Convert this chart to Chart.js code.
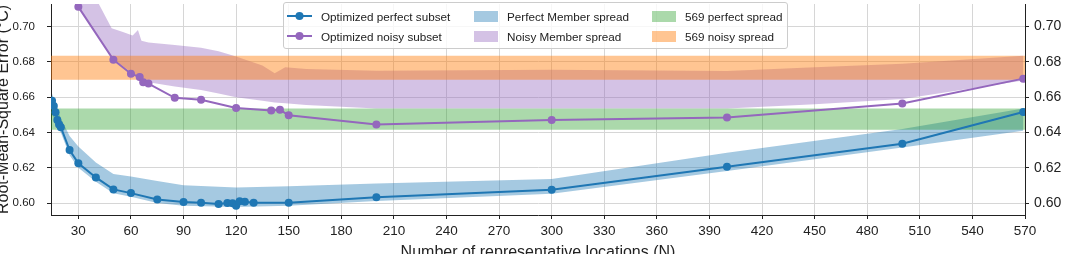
<!DOCTYPE html>
<html>
<head>
<meta charset="utf-8">
<script src="https://cdn.jsdelivr.net/npm/chart.js@4.4.0/dist/chart.umd.min.js"></script>
<style>
html, body { margin: 0; padding: 0; background: #fff; width: 1065px; height: 254px; overflow: hidden; }
#wrap { position: absolute; left: -8px; top: 0; width: 1079px; height: 270px; }
#legend { position: absolute; left: 283px; top: 2px; width: 503px; height: 45px; background: rgba(255,255,255,0.8);
          border: 1px solid #cccccc; border-radius: 3px; font: 11.7px "Liberation Sans", Arial, sans-serif; color: #222; }
.item { position: absolute; height: 16px; display: flex; align-items: center; white-space: nowrap; }
.patch { width: 24px; height: 11px; margin-right: 9px; }
.handle { width: 25px; height: 10px; margin-right: 9px; }
</style>
</head>
<body>
<div id="wrap"><canvas id="chart"></canvas></div>
<div id="legend">
  <div class="item" style="left:3px;top:5px"><svg class="handle" viewBox="0 0 25 10"><line x1="0" y1="5" x2="25" y2="5" stroke="#1f77b4" stroke-width="2"/><circle cx="12.5" cy="5" r="4" fill="#1f77b4"/></svg>Optimized perfect subset</div>
  <div class="item" style="left:3px;top:25px"><svg class="handle" viewBox="0 0 25 10"><line x1="0" y1="5" x2="25" y2="5" stroke="#9467bd" stroke-width="2"/><circle cx="12.5" cy="5" r="4" fill="#9467bd"/></svg>Optimized noisy subset</div>
  <div class="item" style="left:190px;top:5px"><div class="patch" style="background:rgba(31,119,180,0.4)"></div>Perfect Member spread</div>
  <div class="item" style="left:190px;top:25px"><div class="patch" style="background:rgba(148,103,189,0.4)"></div>Noisy Member spread</div>
  <div class="item" style="left:368px;top:5px"><div class="patch" style="background:rgba(44,160,44,0.4)"></div>569 perfect spread</div>
  <div class="item" style="left:368px;top:25px"><div class="patch" style="background:rgba(255,127,14,0.45)"></div>569 noisy spread</div>
</div>
<script>
// axis ticks
const xTicks = [30, 60, 90, 120, 150, 180, 210, 240, 270, 300, 330, 360, 390, 420, 450, 480, 510, 540, 570];
const yTicks = [0.60, 0.62, 0.64, 0.66, 0.68, 0.70];

// optimized perfect subset
const perfectN = [15, 16, 17, 18, 19, 20, 25, 30, 40, 50, 60, 75, 90, 100, 110, 115, 118, 120, 122, 125, 130, 150, 200, 300, 400, 500, 569];
const perfectRmse = [0.658, 0.655, 0.6515, 0.647, 0.6445, 0.643, 0.630, 0.6225, 0.6145, 0.6077, 0.6056, 0.602, 0.6006, 0.6002, 0.5994, 0.6000, 0.5998, 0.5984, 0.6010, 0.6007, 0.6001, 0.6001, 0.6033, 0.6075, 0.6206, 0.6336, 0.6516];

// optimized noisy subset
const noisyN = [30, 50, 60, 65, 67, 70, 85, 100, 120, 140, 145, 150, 200, 300, 400, 500, 569];
const noisyRmse = [0.7112, 0.6812, 0.6733, 0.6714, 0.6685, 0.6677, 0.6596, 0.6585, 0.6538, 0.6525, 0.6528, 0.6497, 0.6445, 0.6470, 0.6484, 0.6564, 0.6705];

// perfect member spread
const perfSpreadN = [15, 20, 25, 30, 40, 50, 60, 75, 90, 120, 150, 200, 300, 400, 500, 569];
const perfSpreadHi = [0.662, 0.648, 0.638, 0.632, 0.623, 0.6165, 0.615, 0.6125, 0.610, 0.6088, 0.6095, 0.611, 0.6136, 0.6285, 0.642, 0.6535];
const perfSpreadLo = [0.650, 0.640, 0.627, 0.620, 0.612, 0.6055, 0.6035, 0.600, 0.5985, 0.5978, 0.5985, 0.6012, 0.6053, 0.6182, 0.6315, 0.641];

// noisy member spread
const noisySpreadN = [30, 40, 49, 55, 61, 64, 66, 70, 85, 100, 110, 120, 135, 142, 148, 160, 200, 300, 400, 450, 500, 569];
const noisySpreadHi = [0.735, 0.716, 0.699, 0.697, 0.695, 0.698, 0.692, 0.691, 0.6895, 0.688, 0.686, 0.683, 0.678, 0.6735, 0.677, 0.676, 0.675, 0.6755, 0.6748, 0.677, 0.679, 0.6835];
const noisySpreadLo = [0.7112, 0.696, 0.6826, 0.678, 0.6735, 0.672, 0.670, 0.6685, 0.666, 0.664, 0.662, 0.660, 0.658, 0.657, 0.6565, 0.6555, 0.6535, 0.6535, 0.6535, 0.656, 0.659, 0.6695];

// spread of the full 569-location set
const fullPerfect = [0.6415, 0.6535];
const fullNoisy = [0.6698, 0.6835];
const fullRangeN = [0, 600];

const BLUE = '#1f77b4', PURPLE = '#9467bd';
const FONT = '"Liberation Sans", Arial, sans-serif';

function pts(xs, ys) { return xs.map((x, i) => ({ x: x, y: ys[i] })); }

function lineSet(label, xs, ys, color, order) {
    return { label: label, data: pts(xs, ys), borderColor: color, backgroundColor: color, borderWidth: 2,
             pointRadius: 4, pointBorderWidth: 0, pointBackgroundColor: color, fill: false, tension: 0, order: order };
}

function bandSets(xs, hi, lo, color, order) {
    return [
        { data: pts(xs, hi), borderWidth: 0, pointRadius: 0, fill: false, order: order },
        { data: pts(xs, lo), borderWidth: 0, pointRadius: 0, fill: '-1', backgroundColor: color, order: order }
    ];
}

function fixTicks(values) {
    return scale => { scale.ticks = values.map(v => ({ value: v })); };
}

const datasets = [
    lineSet('Optimized perfect subset', perfectN, perfectRmse, BLUE, 0),
    lineSet('Optimized noisy subset', noisyN, noisyRmse, PURPLE, 1),
    ...bandSets(fullRangeN, [fullNoisy[1], fullNoisy[1]], [fullNoisy[0], fullNoisy[0]], 'rgba(255,127,14,0.45)', 2),
    ...bandSets(fullRangeN, [fullPerfect[1], fullPerfect[1]], [fullPerfect[0], fullPerfect[0]], 'rgba(44,160,44,0.4)', 3),
    ...bandSets(noisySpreadN, noisySpreadHi, noisySpreadLo, 'rgba(148,103,189,0.4)', 4),
    ...bandSets(perfSpreadN, perfSpreadHi, perfSpreadLo, 'rgba(31,119,180,0.4)', 5)
];

const gridCol = '#d6d6d6', axisCol = '#222';
const yMin = 0.5932, yMax = 0.7128;

new Chart(document.getElementById('chart'), {
    type: 'line',
    data: { datasets: datasets },
    options: {
        responsive: true,
        maintainAspectRatio: false,
        animation: false,
        layout: { padding: 0 },
        plugins: { legend: { display: false }, tooltip: { enabled: false } },
        scales: {
            x: {
                type: 'linear', min: 14.4, max: 570,
                afterBuildTicks: fixTicks(xTicks),
                afterFit: s => { s.height = 55; s.paddingLeft = 0; s.paddingRight = 0; },
                grid: { color: gridCol, tickColor: axisCol, tickLength: 4 },
                border: { display: true, color: axisCol, width: 1 },
                ticks: { color: axisCol, font: { family: FONT, size: 13.5 }, padding: 4, maxRotation: 0, callback: v => String(v) },
                title: { display: true, text: 'Number of representative locations (N)', color: axisCol,
                         font: { family: FONT, size: 16 }, padding: { top: 0, bottom: 8 } }
            },
            y: {
                type: 'linear', position: 'left', min: yMin, max: yMax,
                afterBuildTicks: fixTicks(yTicks),
                afterFit: s => { s.width = 59; s.paddingTop = 0; s.paddingBottom = 0; },
                grid: { color: gridCol, tickColor: axisCol, tickLength: 4 },
                border: { display: true, color: axisCol, width: 1 },
                ticks: { color: axisCol, font: { family: FONT, size: 11.5 }, padding: 12, callback: v => v.toFixed(2) },
                title: { display: true, text: 'Root-Mean-Square Error (°C)', color: axisCol,
                         font: { family: FONT, size: 16 }, padding: { top: 2, bottom: 0 } }
            },
            y2: {
                type: 'linear', position: 'right', min: yMin, max: yMax,
                afterBuildTicks: fixTicks(yTicks),
                afterFit: s => { s.width = 46; s.paddingTop = 0; s.paddingBottom = 0; },
                grid: { drawOnChartArea: false, tickColor: axisCol, tickLength: 4 },
                border: { display: true, color: axisCol, width: 1 },
                ticks: { color: axisCol, font: { family: FONT, size: 14 }, padding: 5, callback: v => v.toFixed(2) }
            }
        }
    }
});
</script>
</body>
</html>
